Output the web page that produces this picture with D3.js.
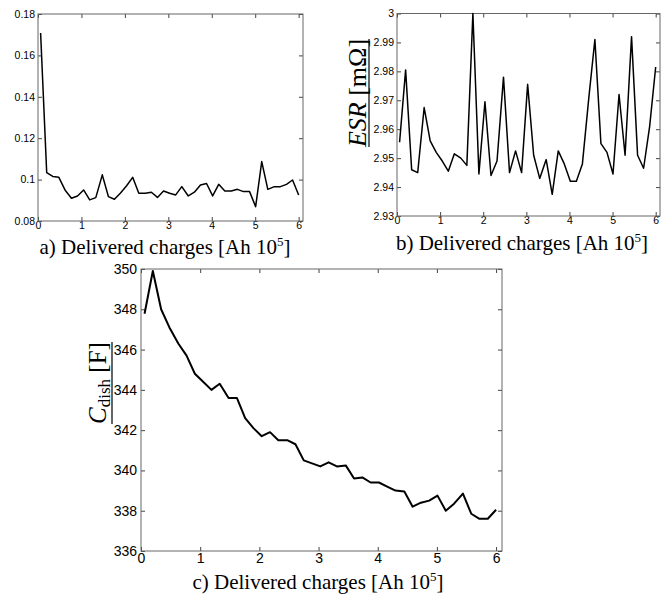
<!DOCTYPE html>
<html>
<head>
<meta charset="utf-8">
<script src="https://cdn.jsdelivr.net/npm/d3@7"></script>
<style>
  body { margin: 0; background: #fff; }
  svg { display: block; }
</style>
</head>
<body>
<div id="chart"></div>
<script>
// charge delivered (x 10^5 Ah), same sampling for the three panels
const charges = [0.06, 0.20, 0.34, 0.48, 0.63, 0.77, 0.91, 1.05, 1.19, 1.33, 1.48,
  1.62, 1.76, 1.90, 2.04, 2.18, 2.32, 2.47, 2.61, 2.75, 2.89, 3.03, 3.17, 3.31,
  3.46, 3.60, 3.74, 3.88, 4.02, 4.16, 4.30, 4.45, 4.59, 4.73, 4.87, 5.01, 5.15,
  5.29, 5.44, 5.58, 5.72, 5.86, 6.00];

// panel a
const valuesA = [0.1708, 0.1034, 0.1015, 0.1011, 0.0947, 0.0910, 0.0921, 0.0950,
  0.0902, 0.0913, 0.1023, 0.0918, 0.0905, 0.0935, 0.0970, 0.1011, 0.0934, 0.0934,
  0.0939, 0.0914, 0.0945, 0.0934, 0.0926, 0.0966, 0.0921, 0.0939, 0.0974, 0.0981,
  0.0921, 0.0977, 0.0945, 0.0945, 0.0953, 0.0942, 0.0942, 0.0869, 0.1087, 0.0953,
  0.0966, 0.0966, 0.0977, 0.0998, 0.0926];

// panel b : ESR [mOhm]
const valuesB = [2.9555, 2.9805, 2.9460, 2.9450, 2.9675, 2.9560, 2.9520, 2.9490,
  2.9455, 2.9515, 2.9500, 2.9475, 3.0000, 2.9445, 2.9695, 2.9440, 2.9490, 2.9780,
  2.9450, 2.9525, 2.9450, 2.9755, 2.9510, 2.9430, 2.9495, 2.9375, 2.9525, 2.9480,
  2.9420, 2.9420, 2.9480, 2.9710, 2.9910, 2.9550, 2.9520, 2.9445, 2.9720, 2.9510,
  2.9920, 2.9510, 2.9465, 2.9610, 2.9815];

// panel c : C dish [F]
const valuesC = [347.78, 349.9, 348.0, 347.1, 346.3, 345.7, 344.8, 344.4, 344.0,
  344.3, 343.6, 343.6, 342.6, 342.1, 341.7, 341.9, 341.5, 341.5, 341.3, 340.5,
  340.35, 340.2, 340.4, 340.2, 340.25, 339.6, 339.65, 339.4, 339.4, 339.2, 339.0,
  338.95, 338.2, 338.4, 338.5, 338.75, 338.0, 338.35, 338.85, 337.85, 337.6,
  337.6, 338.05];

const xTicks = [0, 1, 2, 3, 4, 5, 6];
const yTicksA = [0.08, 0.1, 0.12, 0.14, 0.16, 0.18];
const yTicksB = [2.93, 2.94, 2.95, 2.96, 2.97, 2.98, 2.99, 3];
const yTicksC = [336, 338, 340, 342, 344, 346, 348, 350];

const W = 668, H = 596;
const serif = "'Liberation Serif', 'Times New Roman', serif";
const svg = d3.select("#chart").append("svg")
  .attr("width", W).attr("height", H);

function panel(opt) {
  const x = d3.scaleLinear().domain([0, 6.1]).range([opt.left, opt.right]);
  const y = d3.scaleLinear().domain(opt.yDomain).range([opt.bottom, opt.top]);
  const g = svg.append("g");
  const fmt = d => String(+d.toFixed(2));

  // ticks pointing inward on all four sides
  const sides = [
    [d3.axisBottom(x).tickValues(xTicks), `translate(0,${opt.bottom})`, opt.padX],
    [d3.axisTop(x).tickValues(xTicks), `translate(0,${opt.top})`, null],
    [d3.axisLeft(y).tickValues(opt.yTicks), `translate(${opt.left},0)`, opt.padY],
    [d3.axisRight(y).tickValues(opt.yTicks), `translate(${opt.right},0)`, null]
  ];
  sides.forEach(([ax, tr, pad]) => {
    const labels = pad !== null;
    ax.tickSizeInner(-4).tickSizeOuter(0).tickPadding(labels ? pad : 0)
      .tickFormat(labels ? fmt : "");
    const a = g.append("g").attr("transform", tr).call(ax);
    a.select(".domain").remove();
    a.selectAll("line").attr("stroke", "#444");
    a.selectAll("text")
      .style("font-family", "'Liberation Sans', Arial, sans-serif")
      .style("font-size", opt.tickFont + "px")
      .attr("fill", "#000");
  });

  g.append("rect")
    .attr("x", opt.left).attr("y", opt.top)
    .attr("width", opt.right - opt.left).attr("height", opt.bottom - opt.top)
    .attr("fill", "none").attr("stroke", "#666").attr("stroke-width", 1);

  const line = d3.line().x((d, i) => x(charges[i])).y(d => y(d));
  g.append("path")
    .datum(opt.values)
    .attr("d", line)
    .attr("fill", "none")
    .attr("stroke", "#000")
    .attr("stroke-width", opt.lw)
    .attr("stroke-linejoin", "round");

  // caption under the panel
  const cap = g.append("text")
    .attr("x", opt.capX).attr("y", opt.capY)
    .attr("text-anchor", "middle")
    .style("font-family", serif)
    .style("font-size", "21px");
  cap.append("tspan").text(opt.letter + ") Delivered charges [Ah 10");
  cap.append("tspan").attr("dy", -8).style("font-size", "13px").text("5");
  cap.append("tspan").attr("dy", 8).text("]");
  return g;
}

panel({ left: 38, right: 303, top: 14, bottom: 221, yDomain: [0.08, 0.18],
  yTicks: yTicksA, values: valuesA, tickFont: 10.5, padX: 1, padY: 3, lw: 1.5,
  letter: "a", capX: 165, capY: 254 });

const gb = panel({ left: 397, right: 660, top: 13.5, bottom: 216, yDomain: [2.93, 3],
  yTicks: yTicksB, values: valuesB, tickFont: 10.5, padX: 1, padY: 3, lw: 1.5,
  letter: "b", capX: 522, capY: 250 });

const gc = panel({ left: 141, right: 502, top: 269, bottom: 551, yDomain: [336, 350],
  yTicks: yTicksC, values: valuesC, tickFont: 14, padX: 2, padY: 4, lw: 2,
  letter: "c", capX: 318, capY: 589 });

// rotated y label with a plain rule drawn along its baseline
function yLabel(parent, tx, ty, size, rule, build) {
  const lg = parent.append("g").attr("transform", `translate(${tx},${ty}) rotate(-90)`);
  const t = lg.append("text")
    .attr("text-anchor", "middle")
    .style("font-family", serif)
    .style("font-size", size + "px");
  build(t);
  const len = t.node().getComputedTextLength();
  lg.append("line")
    .attr("x1", -len / 2).attr("x2", len / 2)
    .attr("y1", rule).attr("y2", rule)
    .attr("stroke", "#000").attr("stroke-width", 1.2);
}

yLabel(gb, 366, 93, 26, 3, t => {
  t.append("tspan").style("font-style", "italic").text("ESR");
  t.append("tspan").text(" [m\u03A9]");
});

yLabel(gc, 106, 383, 25, 6, t => {
  t.append("tspan").style("font-style", "italic").text("C");
  t.append("tspan").attr("dy", 4).style("font-size", "17px").text("dish");
  t.append("tspan").attr("dy", -4).text(" [F]");
});
</script>
</body>
</html>
